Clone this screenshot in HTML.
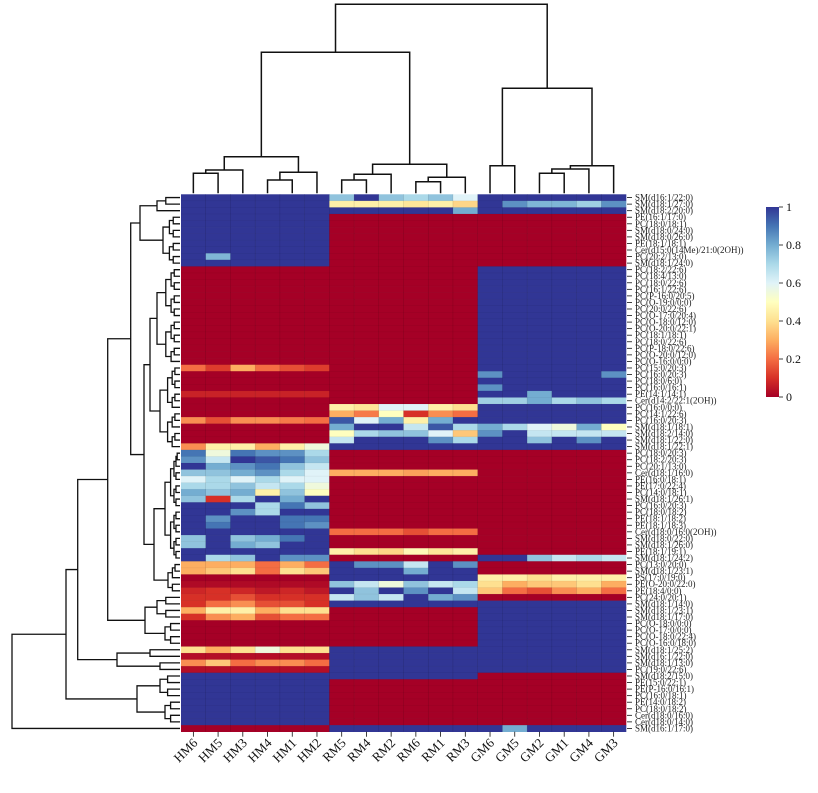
<!DOCTYPE html>
<html><head><meta charset="utf-8"><style>
html,body{margin:0;padding:0;background:#fff;}
svg{display:block;}
text{font-family:"Liberation Serif",serif;}
</style></head><body>
<svg id="chart" width="818" height="793" viewBox="0 0 818 793" xmlns="http://www.w3.org/2000/svg">
<defs><linearGradient id="cbg" x1="0" y1="1" x2="0" y2="0">
<stop offset="0" stop-color="#a50026"/><stop offset="0.1" stop-color="#d73027"/><stop offset="0.2" stop-color="#f46d43"/><stop offset="0.3" stop-color="#fdae61"/><stop offset="0.4" stop-color="#fee090"/><stop offset="0.5" stop-color="#ffffbf"/><stop offset="0.6" stop-color="#e0f3f8"/><stop offset="0.7" stop-color="#abd9e9"/><stop offset="0.8" stop-color="#74add1"/><stop offset="0.9" stop-color="#4575b4"/><stop offset="1" stop-color="#313695"/>
</linearGradient></defs>
<g id="cells"></g>
<g id="coldend"></g>
<g id="rowdend"></g>
<g id="rowlabels"></g>
<g id="collabels"></g>
<g>
<rect x="766" y="207" width="13" height="190" fill="url(#cbg)"/>
<g id="cbticks"></g>
</g>
</svg>
<script>
const columns = ["HM6","HM5","HM3","HM4","HM1","HM2","RM5","RM4","RM2","RM6","RM1","RM3","GM6","GM5","GM2","GM1","GM4","GM3"];
const rowLabels = ["SM(d16:1/22:0)","SM(d18:1/27:0)","SM(d18:2/20:0)","PE(16:1/17:0)","PC(18:0/18:1)","SM(d18:0/24:0)","SM(d18:0/26:0)","PE(18:1/18:1)","Cer(d15:0(14Me)/21:0(2OH))","PC(20:2/13:0)","SM(d18:1/24:0)","PC(18:2/22:6)","PC(18:4/13:0)","PC(18:0/22:6)","PC(16:1/22:6)","PC(P-16:0/20:5)","PC(O-19:0/0:0)","PC(20:0/22:6)","PC(O-17:0/20:4)","PC(O-18:0/12:0)","PC(O-20:0/22:1)","PC(18:1/18:1)","PC(18:0/22:6)","PC(P-18:0/22:6)","PC(O-20:0/12:0)","PC(O-16:0/0:0)","PC(15:0/20:3)","PC(16:0/20:3)","PC(18:0/6:0)","PC(16:0/16:1)","PE(14:1/14:1)","Cer(d14:2/22:1(2OH))","PC(16:0/0:0)","PC(14:1/22:6)","PC(16:0/20:3)","SM(d18:1/18:1)","SM(d18:2/14:0)","SM(d18:1/22:0)","SM(d18:1/22:1)","PC(18:0/20:3)","PC(18:2/20:3)","PC(20:1/13:0)","Cer(d18:1/16:0)","PE(16:0/18:1)","PE(17:0/22:4)","PC(14:0/18:1)","SM(d18:1/26:1)","PC(16:0/20:3)","PC(18:0/18:2)","PE(18:1/18:2)","PE(18:1/18:3)","Cer(d18:0/16:0(2OH))","SM(d18:0/22:0)","SM(d18:1/26:0)","PE(18:1/19:1)","SM(d18:1/24:2)","PC(13:0/20:0)","SM(d18:1/23:1)","PS(17:0/19:0)","PE(O-20:0/22:0)","PE(18:4/0:0)","PC(24:0/20:1)","SM(d18:1/14:0)","SM(d18:1/23:1)","SM(d18:1/17:0)","PC(O-18:0/0:0)","PC(O-17:0/0:0)","PC(O-18:0/22:4)","PC(O-16:0/18:0)","SM(d18:1/25:2)","SM(d16:1/22:0)","SM(d18:1/13:0)","PC(19:0/22:6)","SM(d18:2/15:0)","PE(15:0/22:1)","PE(P-16:0/16:1)","PC(16:0/18:1)","PE(14:0/18:2)","PC(18:0/18:2)","Cer(d18:0/16:0)","Cer(d18:0/14:0)","SM(d16:1/17:0)"];
const values = [
[1,1,1,1,1,1,.75,1,.75,.7,.75,.6,1,1,1,1,1,1],
[1,1,1,1,1,1,.45,.45,.45,.42,.45,.38,1,.85,.78,.78,.72,.85],
[1,1,1,1,1,1,1,1,1,1,1,.8,1,1,1,1,1,1],
[1,1,1,1,1,1,0,0,0,0,0,0,0,0,0,0,0,0],
[1,1,1,1,1,1,0,0,0,0,0,0,0,0,0,0,0,0],
[1,1,1,1,1,1,0,0,0,0,0,0,0,0,0,0,0,0],
[1,1,1,1,1,1,0,0,0,0,0,0,0,0,0,0,0,0],
[1,1,1,1,1,1,0,0,0,0,0,0,0,0,0,0,0,0],
[1,1,1,1,1,1,0,0,0,0,0,0,0,0,0,0,0,0],
[1,.78,1,1,1,1,0,0,0,0,0,0,0,0,0,0,0,0],
[1,1,1,1,1,1,0,0,0,0,0,0,0,0,0,0,0,0],
[0,0,0,0,0,0,0,0,0,0,0,0,1,1,1,1,1,1],
[0,0,0,0,0,0,0,0,0,0,0,0,1,1,1,1,1,1],
[0,0,0,0,0,0,0,0,0,0,0,0,1,1,1,1,1,1],
[0,0,0,0,0,0,0,0,0,0,0,0,1,1,1,1,1,1],
[0,0,0,0,0,0,0,0,0,0,0,0,1,1,1,1,1,1],
[0,0,0,0,0,0,0,0,0,0,0,0,1,1,1,1,1,1],
[0,0,0,0,0,0,0,0,0,0,0,0,1,1,1,1,1,1],
[0,0,0,0,0,0,0,0,0,0,0,0,1,1,1,1,1,1],
[0,0,0,0,0,0,0,0,0,0,0,0,1,1,1,1,1,1],
[0,0,0,0,0,0,0,0,0,0,0,0,1,1,1,1,1,1],
[0,0,0,0,0,0,0,0,0,0,0,0,1,1,1,1,1,1],
[0,0,0,0,0,0,0,0,0,0,0,0,1,1,1,1,1,1],
[0,0,0,0,0,0,0,0,0,0,0,0,1,1,1,1,1,1],
[0,0,0,0,0,0,0,0,0,0,0,0,1,1,1,1,1,1],
[0,0,0,0,0,0,0,0,0,0,0,0,1,1,1,1,1,1],
[.2,.12,.3,.2,.15,.12,0,0,0,0,0,0,1,1,1,1,1,1],
[0,0,0,0,0,0,0,0,0,0,0,0,.85,1,1,1,1,.85],
[0,0,0,0,0,0,0,0,0,0,0,0,1,1,1,1,1,1],
[0,0,0,0,0,0,0,0,0,0,0,0,.85,1,1,1,1,1],
[.07,.07,.07,.07,.07,.07,0,0,0,0,0,0,1,1,.8,1,1,1],
[0,0,0,0,0,0,0,0,0,0,0,0,.72,.72,.8,.7,.75,.7],
[0,0,0,0,0,0,.45,.42,.6,.6,.45,.4,1,1,1,1,1,1],
[0,0,0,0,0,0,.3,.22,.5,.1,.25,.2,1,1,1,1,1,1],
[.25,.15,.25,.25,.22,.2,.95,.6,.8,.45,.8,1,1,1,1,1,1,1],
[0,0,0,0,0,0,.8,1,1,.65,.95,.7,.8,.7,.6,.55,.8,.5],
[0,0,0,0,0,0,.5,.7,.75,.75,.6,.35,.85,1,.65,.65,.65,.65],
[0,0,0,0,0,0,.65,1,1,1,.85,.7,1,1,.75,1,.85,1],
[.25,.45,.45,.3,.45,.55,1,1,1,1,1,1,1,1,1,1,1,1],
[.9,.55,.9,.85,.85,.7,0,0,0,0,0,0,0,0,0,0,0,0],
[.85,.65,1,.95,.9,.75,0,0,0,0,0,0,0,0,0,0,0,0],
[1,.8,.85,.9,.75,.65,0,0,0,0,0,0,0,0,0,0,0,0],
[.75,.75,.8,.85,.7,.6,.3,.3,.3,.28,.3,.3,0,0,0,0,0,0],
[.6,.7,.6,.7,.6,.6,0,0,0,0,0,0,0,0,0,0,0,0],
[.7,.7,.75,.65,.7,.55,0,0,0,0,0,0,0,0,0,0,0,0],
[.8,.75,.8,.45,.75,.5,0,0,0,0,0,0,0,0,0,0,0,0],
[.75,.1,.7,1,.8,1,0,0,0,0,0,0,0,0,0,0,0,0],
[1,1,1,.7,.9,.75,0,0,0,0,0,0,0,0,0,0,0,0],
[1,1,.85,.7,1,1,0,0,0,0,0,0,0,0,0,0,0,0],
[1,.85,1,1,.9,.9,0,0,0,0,0,0,0,0,0,0,0,0],
[1,.9,1,1,.9,.85,0,0,0,0,0,0,0,0,0,0,0,0],
[1,1,1,1,1,1,.2,.2,.2,.15,.2,.2,0,0,0,0,0,0],
[.75,1,.75,.8,.9,1,0,0,0,0,0,0,0,0,0,0,0,0],
[.75,1,.8,.75,1,1,0,0,0,0,0,0,0,0,0,0,0,0],
[1,1,1,1,1,1,.45,.4,.38,.48,.42,.45,0,0,0,0,0,0],
[1,.7,.75,1,.85,.85,0,0,0,0,0,0,1,1,.75,.65,.7,.65],
[.3,.3,.3,.2,.3,.2,1,.85,.85,.65,1,.85,0,0,0,0,0,0],
[.3,.35,.4,.2,.4,.35,1,1,1,.8,1,1,0,0,0,0,0,0],
[0,0,0,0,0,0,1,1,1,1,1,1,.45,.45,.4,.45,.45,.45],
[.02,.02,.02,.02,.02,.02,.75,.65,.55,.75,.65,.7,.4,.3,.35,.35,.4,.3],
[.08,.1,.08,.05,.08,.05,1,.75,1,.85,1,.65,.35,.2,.15,.25,.3,.2],
[.1,.1,.15,.1,.1,.1,.65,.75,.65,1,.8,.85,0,0,0,0,0,0],
[.1,.2,.25,.15,.15,.1,1,1,1,1,1,1,1,1,1,1,1,1],
[.3,.45,.45,.3,.4,.4,0,0,0,0,0,0,1,1,1,1,1,1],
[.1,.25,.3,.15,.2,.2,0,0,0,0,0,0,1,1,1,1,1,1],
[0,0,0,0,0,0,0,0,0,0,0,0,1,1,1,1,1,1],
[0,0,0,0,0,0,0,0,0,0,0,0,1,1,1,1,1,1],
[0,0,0,0,0,0,0,0,0,0,0,0,1,1,1,1,1,1],
[0,0,0,0,0,0,0,0,0,0,0,0,1,1,1,1,1,1],
[.4,.3,.4,.55,.4,.4,1,1,1,1,1,1,1,1,1,1,1,1],
[.03,.03,.03,.03,.03,.03,1,1,1,1,1,1,1,1,1,1,1,1],
[.25,.35,.2,.25,.25,.2,1,1,1,1,1,1,1,1,1,1,1,1],
[.03,.03,.03,.03,.03,.03,1,1,1,1,1,1,1,1,1,1,1,1],
[1,1,1,1,1,1,1,1,1,1,1,1,0,0,0,0,0,0],
[1,1,1,1,1,1,0,0,0,0,0,0,0,0,0,0,0,0],
[1,1,1,1,1,1,0,0,0,0,0,0,0,0,0,0,0,0],
[1,1,1,1,1,1,0,0,0,0,0,0,0,0,0,0,0,0],
[1,1,1,1,1,1,0,0,0,0,0,0,0,0,0,0,0,0],
[1,1,1,1,1,1,0,0,0,0,0,0,0,0,0,0,0,0],
[1,1,1,1,1,1,0,0,0,0,0,0,0,0,0,0,0,0],
[1,1,1,1,1,1,0,0,0,0,0,0,0,0,0,0,0,0],
[0,0,0,0,0,0,1,1,1,1,1,1,1,.8,1,1,1,1]
];
const colMerges = [[0,1,20],[18,2,23.3],[3,4,13.3],[20,5,21],[19,21,36.6],[6,7,13.3],[23,8,19],[9,10,11.6],[25,11,16],[24,26,29],[22,27,141],[12,13,27.6],[14,15,20],[30,16,24.3],[31,17,27.6],[29,32,105],[28,33,189]];
const cbTicks = [0,0.2,0.4,0.6,0.8,1];

const NS="http://www.w3.org/2000/svg";
const X0=181, X1=626, Y0=194.3, Y1=731.7;
const cw=(X1-X0)/columns.length, rh=(Y1-Y0)/values.length;
function xCol(c){return X0+c*cw;}
function yRow(r){return Y0+r*rh;}
const stops=[[0,[165,0,38]],[.1,[215,48,39]],[.2,[244,109,67]],[.3,[253,174,97]],[.4,[254,224,144]],[.5,[255,255,191]],[.6,[224,243,248]],[.7,[171,217,233]],[.8,[116,173,209]],[.9,[69,117,180]],[1,[49,54,149]]];
function color(v){v=Math.max(0,Math.min(1,v));for(let i=1;i<stops.length;i++){if(v<=stops[i][0]){const a=stops[i-1],b=stops[i];const t=(v-a[0])/(b[0]-a[0]);const c=a[1].map((x,k)=>Math.round(x+(b[1][k]-x)*t));return `rgb(${c[0]},${c[1]},${c[2]})`;}}return "rgb(49,54,149)";}
function el(tag,attrs,parent){const e=document.createElementNS(NS,tag);for(const k in attrs)e.setAttribute(k,attrs[k]);parent.appendChild(e);return e;}

const gCells=document.getElementById('cells');
values.forEach((row,r)=>row.forEach((v,c)=>{
  const e=el('rect',{x:xCol(c).toFixed(2),y:yRow(r).toFixed(2),width:(cw+0.3).toFixed(2),height:(rh+0.3).toFixed(2),fill:color(v)},gCells);
  
  
}));
// faint grid
for(let c=1;c<columns.length;c++){const l=el('line',{x1:xCol(c),x2:xCol(c),y1:Y0,y2:Y1,stroke:'rgba(0,0,0,0.18)','stroke-width':0.5},gCells);}
for(let r=1;r<values.length;r++){const l=el('line',{x1:X0,x2:X1,y1:yRow(r),y2:yRow(r),stroke:'rgba(0,0,0,0.1)','stroke-width':0.4},gCells);}

// column dendrogram
const gC=document.getElementById('coldend');
const nodes=columns.map((c,i)=>({x:xCol(i)+cw/2,h:0}));
const yH=h=>193.3-h;
let cd="";
colMerges.forEach(m=>{const a=nodes[m[0]],b=nodes[m[1]],y=yH(m[2]);
  cd+=`M${a.x},${yH(a.h)}V${y}H${b.x}V${yH(b.h)}`;
  nodes.push({x:(a.x+b.x)/2,h:m[2]});});
const pc=el('path',{d:cd,fill:'none',stroke:'#111','stroke-width':1.5},gC);



// row dendrogram
function L(i){return {leaf:i};}
function N(x,l,r){return {x:x,l:l,r:r};}
function rng(a,b,x){if(a===b)return L(a);const m=Math.floor((a+b)/2);const cx=x+(179-x)*0.4;return N(x,rng(a,m,cx),rng(m+1,b,cx));}
const rowTree=N(12,N(66,N(77.7,N(107.7,N(130.7,N(140,rng(0,2,157),rng(3,10,163)),N(144,N(150,rng(11,25,157),rng(26,38,160)),N(154,rng(39,55,165),rng(56,60,168)))),N(145,rng(61,64,157),rng(65,68,165))),N(117,rng(69,70,150),rng(71,72,160))),N(137,rng(73,76,160),rng(77,80,165))),L(81));
let rd="";
function lay(n){if(n.leaf!==undefined){n.y=yRow(n.leaf)+rh/2;n.xx=180;return;}lay(n.l);lay(n.r);n.y=(n.l.y+n.r.y)/2;n.xx=n.x;
  rd+=`M${n.l.xx},${n.l.y}H${n.x}V${n.r.y}H${n.r.xx}`;}
lay(rowTree);
const pr=el('path',{d:rd,fill:'none',stroke:'#111','stroke-width':1.3},document.getElementById('rowdend'));



// row labels
const gR=document.getElementById('rowlabels');
rowLabels.forEach((t,r)=>{const y=yRow(r)+rh/2;
  const tk=el('line',{x1:X1+1,x2:X1+6,y1:y,y2:y,stroke:'#111','stroke-width':0.8},gR);
  
  const tx=el('text',{x:X1+9,y:y+3,'font-size':9,fill:'#222'},gR);tx.textContent=t;
  });

// column labels
const gL=document.getElementById('collabels');
columns.forEach((t,c)=>{const cx=xCol(c)+cw/2;
  const tk=el('line',{x1:cx,x2:cx,y1:Y1,y2:Y1+5,stroke:'#111','stroke-width':0.8},gL);
  
  const tx=el('text',{x:cx+5,y:Y1+12,'font-size':13,'text-anchor':'end',fill:'#111',transform:`rotate(-45 ${cx+5} ${Y1+12})`},gL);tx.textContent=t;
  });

// colorbar ticks
const gT=document.getElementById('cbticks');
cbTicks.forEach(v=>{const y=397-v*190;
  const tk=el('line',{x1:779,x2:783,y1:y,y2:y,stroke:'#111','stroke-width':0.8},gT);
  
  const tx=el('text',{x:786,y:y+4,'font-size':12,fill:'#111'},gT);tx.textContent=String(v);
  });
</script>
</body></html>
